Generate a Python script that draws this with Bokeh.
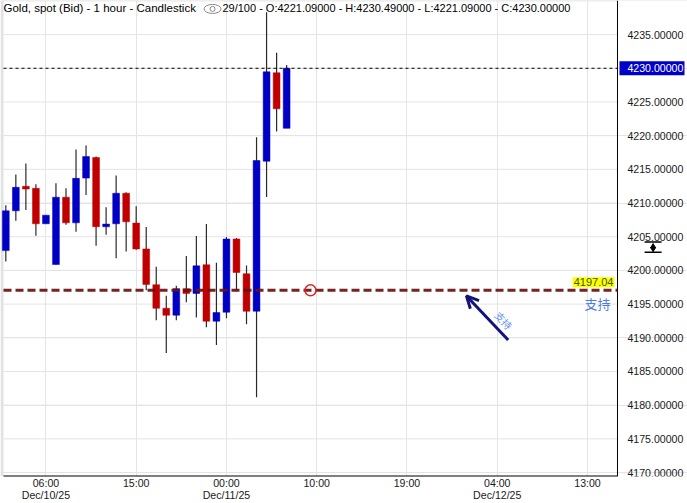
from bokeh.plotting import figure
from bokeh.models import (ColumnDataSource, FixedTicker, Label, Arrow, OpenHead, Range1d,
                          LinearAxis)
from bokeh.core.properties import value
from bokeh.embed import file_html
from bokeh.resources import INLINE

# ---------------- data (hourly bars, index = bar number) ----------------
opens = [4202.94, 4208.84, 4212.48, 4212.18, 4206.92, 4200.87, 4210.86, 4207.06, 4213.70, 4216.76,
         4206.48, 4206.92, 4211.45, 4207.02, 4203.19, 4197.88, 4194.38, 4193.35, 4197.29, 4196.59,
         4200.83, 4192.46, 4193.79, 4204.66, 4199.50, 4193.94, 4216.21, 4229.34, 4221.09]
highs = [4209.68, 4214.25, 4215.87, 4212.77, 4208.20, 4212.92, 4212.18, 4217.93, 4218.53, 4216.90,
         4209.38, 4214.10, 4211.59, 4209.53, 4206.43, 4200.53, 4196.25, 4197.73, 4202.15, 4205.10,
         4206.87, 4201.12, 4204.96, 4204.81, 4200.72, 4219.75, 4238.33, 4232.29, 4230.49]
lows = [4201.31, 4207.36, 4208.98, 4205.15, 4206.92, 4200.87, 4206.77, 4205.74, 4211.20, 4203.67,
        4205.30, 4201.81, 4202.79, 4203.08, 4197.04, 4192.61, 4187.74, 4192.61, 4195.27, 4193.01,
        4191.58, 4188.92, 4192.91, 4196.89, 4192.02, 4181.17, 4210.90, 4220.63, 4221.09]
closes = [4208.84, 4212.33, 4212.08, 4206.92, 4208.20, 4210.86, 4207.06, 4213.66, 4216.90, 4206.48,
          4206.87, 4211.45, 4207.21, 4203.19, 4197.92, 4194.38, 4193.35, 4197.29, 4196.59, 4200.68,
          4192.46, 4193.75, 4204.66, 4199.69, 4193.94, 4216.31, 4229.48, 4223.98, 4230.00]

time_ticks = [4, 13, 22, 31, 40, 49, 58]
time_labels = ["06:00", "15:00", "00:00", "10:00", "19:00", "04:00", "13:00"]
date_ticks = [4, 22, 49]
date_labels = ["Dec/10/25", "Dec/11/25", "Dec/12/25"]
price_ticks = [4170, 4175, 4180, 4185, 4190, 4195, 4200, 4205, 4210, 4215,
               4220, 4225, 4230, 4235, 4240]

support_level = 4197.04
support_text = "支持"
header_left = "Gold, spot (Bid) - 1 hour - Candlestick"
header_right = "29/100 - O:4221.09000 - H:4230.49000 - L:4221.09000 - C:4230.00000"

BLUE = "#0000c4"
RED = "#c00000"
GRID = "#e4e4e4"
FONT = "Liberation Sans"
TICK_FS = "10.6px"

idx = list(range(len(opens)))
src = ColumnDataSource(dict(
    x=idx,
    top=[max(o, c) for o, c in zip(opens, closes)],
    bottom=[min(o, c) for o, c in zip(opens, closes)],
    high=highs, low=lows,
    color=[BLUE if c > o else RED for o, c in zip(opens, closes)],
))

# x: bar index; the price scale sits at XR, its labels to the right of it
XE, X0, XR, X1 = -0.53, -0.23, 60.99, 67.97
Y0, Y1 = 4169.41, 4240.06

p = figure(width=687, height=503, output_backend="svg", toolbar_location=None,
           x_range=Range1d(XE, X1), y_range=Range1d(Y0, Y1), y_axis_location=None,
           min_border_left=0, min_border_top=0, min_border_right=0, min_border_bottom=24)
p.outline_line_color = None
p.background_fill_color = "white"
p.border_fill_color = "white"

# window edge strip on the left
p.quad(left=[XE], right=[X0], bottom=[Y0], top=[Y1], fill_color="#e2e2e2", line_color=None)

# grids
p.xgrid.ticker = FixedTicker(ticks=time_ticks)
p.xgrid.grid_line_color = GRID
p.segment(x0=[X0] * len(price_ticks), x1=[XR] * len(price_ticks), y0=price_ticks,
          y1=price_ticks, line_color=GRID, line_width=1)

# candles
p.segment(x0="x", y0="low", x1="x", y1="high", source=src, line_color="#2a2a2a", line_width=1.2)
p.vbar(x="x", top="top", bottom="bottom", width=0.68, fill_color="color",
       line_color="color", line_width=0.5, source=src)

# time axis (two rows: hour, date)
xa = p.xaxis[0]
xa.ticker = FixedTicker(ticks=time_ticks)
xa.major_label_overrides = {t: l for t, l in zip(time_ticks, time_labels)}
xa.major_label_standoff = 0
xa2 = LinearAxis(ticker=FixedTicker(ticks=date_ticks),
                 major_label_overrides={t: l for t, l in zip(date_ticks, date_labels)},
                 major_label_standoff=-3)
p.add_layout(xa2, "below")
for ax in (xa, xa2):
    ax.axis_line_color = None
    ax.major_tick_out = 0
    ax.major_tick_in = 0
    ax.minor_tick_line_color = None
    ax.major_label_text_font = FONT
    ax.major_label_text_color = "#1a1a1a"
    ax.major_label_text_font_size = TICK_FS

# axis lines (bottom and price scale)
p.segment(x0=[X0], x1=[XR], y0=[Y0], y1=[Y0], line_color="black", line_width=2)
p.segment(x0=[XR], x1=[XR], y0=[Y0], y1=[Y1], line_color="black", line_width=1)

# price scale labels
label_x = XR + 0.99
lab_ticks = [t for t in price_ticks[:-1] if t != closes[-1]]
p.text(x=[label_x] * len(lab_ticks), y=lab_ticks, text=[f"{t:.5f}" for t in lab_ticks],
       text_align="left", text_baseline="middle", text_color="#1a1a1a",
       text_font=value(FONT), text_font_size=TICK_FS)

# current price: dotted line + blue box on the scale
p.segment(x0=[X0], x1=[XR], y0=[closes[-1]], y1=[closes[-1]], line_color="black",
          line_dash="3 3", line_width=1)
p.rect(x=[XR + 3.44], y=[closes[-1]], width=6.48, height=14, height_units="screen",
       fill_color="#0000c8", line_color=None)
p.text(x=[label_x], y=[closes[-1]], text=[f"{closes[-1]:.5f}"], text_align="left",
       text_baseline="middle", text_color="white", text_font=value(FONT),
       text_font_size=TICK_FS)

# small scale icon on the price axis
icon_x = XR + 3.55
p.segment(x0=[icon_x - 0.85] * 2, x1=[icon_x + 0.85] * 2, y0=[4204.22, 4202.68],
          y1=[4204.22, 4202.68], line_color="black", line_width=1.5)
p.scatter(x=[icon_x], y=[4203.55], marker="triangle", size=5, fill_color="black",
          line_color="black")
p.scatter(x=[icon_x], y=[4203.2], marker="inverted_triangle", size=5, fill_color="black",
          line_color="black")

# support line
p.segment(x0=[X0], x1=[XR], y0=[support_level], y1=[support_level], line_color="#6a1010",
          line_dash="8 4", line_width=3, line_alpha=0.92)
p.add_layout(Label(x=60.69, y=support_level, y_offset=3, text=f"{support_level:.2f}",
                   text_align="right", text_baseline="bottom", text_color="#3d5c00",
                   text_font=FONT, text_font_size="11px",
                   background_fill_color="#ffff00", padding=1))
p.add_layout(Label(x=58.99, y=support_level, y_offset=-4, text=support_text,
                   text_align="center", text_baseline="top", text_color="#4d7de6",
                   text_font="Noto Sans CJK SC", text_font_size="13px"))

# circle marker on support line
p.scatter(x=[30.38], y=[support_level], marker="circle", size=11, fill_color=None,
          line_color="#e02020", line_width=1.5)

# arrow pointing at support
p.add_layout(Arrow(x_start=50.09, y_start=4189.66, x_end=45.93, y_end=4196.21,
                   line_color="#12127a", line_width=3,
                   end=OpenHead(line_color="#12127a", line_width=3, size=12)))
p.add_layout(Label(x=49.65, y=4192.61, text=support_text, angle=-0.82, text_align="center",
                   text_baseline="middle", text_color="#6a90f0",
                   text_font="Noto Sans CJK SC", text_font_size="10px"))

# header
p.add_layout(Label(x=X0, y=Y1, y_offset=-1, text=header_left, text_align="left",
                   text_baseline="top", text_color="black",
                   text_font=FONT, text_font_size="11.5px"))
p.add_layout(Label(x=21.6, y=Y1, y_offset=-1.5, text=header_right, text_align="left",
                   text_baseline="top", text_color="black",
                   text_font=FONT, text_font_size="11px"))
p.ellipse(x=[20.61], y=[4238.81], width=17, height=9, width_units="screen",
          height_units="screen", fill_color=None, line_color="#8a8a8a", line_width=1)
p.scatter(x=[20.61], y=[4238.81], marker="circle", size=5, fill_color=None,
          line_color="#8a8a8a", line_width=1)

open("out.html", "w").write(file_html(p, INLINE))
